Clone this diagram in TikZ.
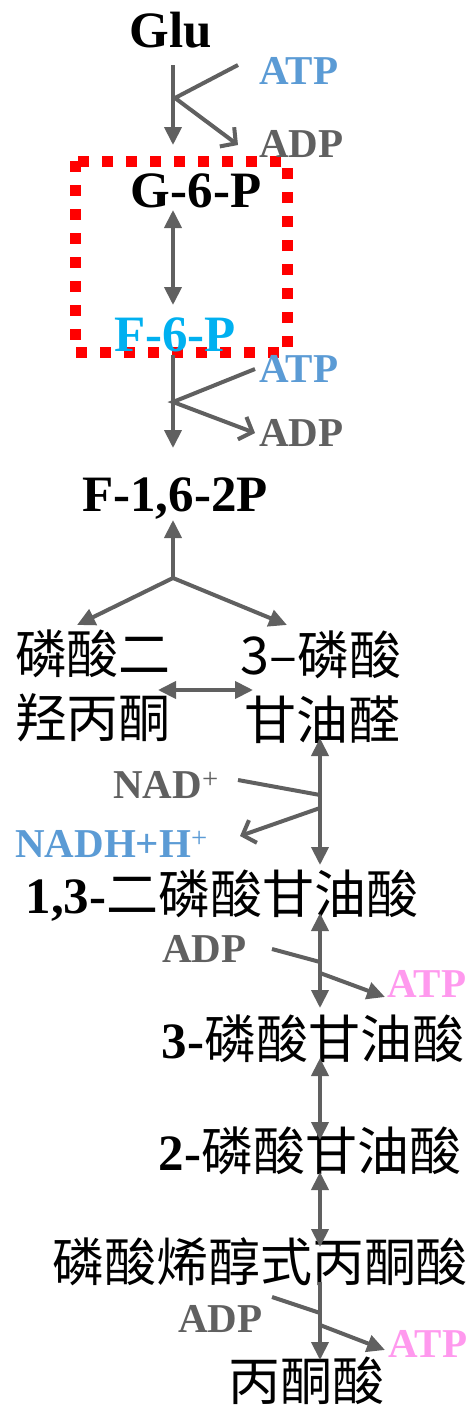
\documentclass[tikz,border=0pt]{standalone}
\usepackage{fontspec}
\setmainfont{Liberation Serif}
\newfontfamily\cjk{Noto Sans CJK SC}
\usetikzlibrary{arrows.meta}
\definecolor{arr}{HTML}{606060}
\definecolor{atpblue}{HTML}{5B9BD5}
\definecolor{cyanf}{HTML}{00B0F0}
\definecolor{pinkatp}{HTML}{FF99EE}
\definecolor{boxred}{HTML}{FF0000}
\begin{document}
\begin{tikzpicture}[x=1pt,y=1pt,
  lbl/.style={inner sep=0pt, font=\fontsize{51}{56}\selectfont\bfseries},
  small/.style={inner sep=0pt, font=\fontsize{41}{46}\selectfont\bfseries},
  zh/.style={inner sep=0pt, font=\fontsize{52}{60}\selectfont\cjk},
  conn/.style={draw=arr, line width=4pt},
  fa/.style={-{Triangle[length=18pt,width=17pt]}},
  da/.style={{Triangle[length=18pt,width=17pt]}-{Triangle[length=18pt,width=17pt]}},
  oa/.style={-{Straight Barb[length=11pt,width=24pt]}},
  ]
\useasboundingbox (0,0) rectangle (476,-1408);
% highlight box
\draw[boxred, line width=11pt, dash pattern=on 11pt off 13pt] (75,-161) rectangle (287,-352);
% labels
\node[lbl, anchor=base] (glu) at (171,-47) {Glu};
\node[small, anchor=base west, text=atpblue] (atp1) at (259,-84) {ATP};
\node[small, anchor=base west, text=arr] (adp1) at (259,-157) {ADP};
\node[lbl, anchor=base] (g6p) at (196,-207) {G-6-P};
\node[lbl, anchor=base, text=cyanf] (f6p) at (175,-351) {F-6-P};
\node[small, anchor=base west, text=atpblue] (atp2) at (259,-382) {ATP};
\node[small, anchor=base west, text=arr] (adp2) at (259,-446) {ADP};
\node[lbl, anchor=base] (f16) at (175,-511) {F-1,6-2P};
\node[zh] (dhap1) at (93,-654) {磷酸二};
\node[zh] (dhap2) at (93,-718) {羟丙酮};
\node[zh] (gap1) at (321,-655) {3–磷酸};
\node[zh] (gap2) at (322,-720) {甘油醛};
\node[small, anchor=base west, text=arr] (nad) at (113,-798) {NAD\textsuperscript{\mdseries +}};
\node[small, anchor=base west, text=atpblue] (nadh) at (15,-857) {NADH+H\textsuperscript{\mdseries +}};
\node[lbl, anchor=base] (bpg) at (222,-913) {1,3-{\fontsize{52}{60}\selectfont\cjk\mdseries 二磷酸甘油酸}};
\node[small, anchor=base west, text=arr] (adp3) at (162,-962) {ADP};
\node[small, anchor=base west, text=pinkatp] (atp3) at (387,-997) {ATP};
\node[lbl, anchor=base] (pg3) at (313,-1058) {3-{\fontsize{52}{60}\selectfont\cjk\mdseries 磷酸甘油酸}};
\node[lbl, anchor=base] (pg2) at (310,-1170) {2-{\fontsize{52}{60}\selectfont\cjk\mdseries 磷酸甘油酸}};
\node[zh] (pep) at (260,-1262) {磷酸烯醇式丙酮酸};
\node[small, anchor=base west, text=arr] (adp4) at (178,-1332) {ADP};
\node[small, anchor=base west, text=pinkatp] (atp4) at (388,-1357) {ATP};
\node[zh] (pyr) at (306,-1381) {丙酮酸};
% connector coordinates
\coordinate (a1s) at (173,-65);  \coordinate (a1e) at (173,-145);
\coordinate (t1s) at (238,-65);  \coordinate (b1) at (175,-98); \coordinate (d1e) at (238,-145);
\coordinate (a2s) at (173,-210); \coordinate (a2e) at (173,-305);
\coordinate (a3s) at (173,-355); \coordinate (a3e) at (173,-448);
\coordinate (t2s) at (255,-369); \coordinate (b2) at (173,-402); \coordinate (d2e) at (255,-433);
\coordinate (sp) at (173,-578); \coordinate (a4e) at (173,-520);
\coordinate (l1) at (77,-625); \coordinate (r1) at (287,-625);
\coordinate (hs) at (158,-690); \coordinate (he) at (253,-690);
\coordinate (v1s) at (320,-738); \coordinate (v1e) at (320,-865);
\coordinate (n1s) at (238,-780); \coordinate (n1e) at (320,-795);
\coordinate (n2s) at (320,-808); \coordinate (n2e) at (240,-836);
\coordinate (v2s) at (320,-913); \coordinate (v2e) at (320,-1008);
\coordinate (p1s) at (272,-949); \coordinate (p1e) at (320,-962);
\coordinate (q1s) at (320,-973); \coordinate (q1e) at (385,-997);
\coordinate (v3s) at (320,-1058); \coordinate (v3e) at (320,-1140);
\coordinate (v4s) at (320,-1172); \coordinate (v4e) at (320,-1247);
\coordinate (v5s) at (320,-1282); \coordinate (v5e) at (320,-1360);
\coordinate (p2s) at (272,-1297); \coordinate (p2e) at (320,-1313);
\coordinate (q2s) at (320,-1325); \coordinate (q2e) at (385,-1350);
% connectors
\draw[conn, fa] (a1s) -- (a1e);
\draw[conn, oa] (t1s) -- (b1) -- (d1e);
\draw[conn, da] (a2s) -- (a2e);
\draw[conn, fa] (a3s) -- (a3e);
\draw[conn, oa] (t2s) -- (b2) -- (d2e);
\draw[conn, fa] (sp) -- (a4e);
\draw[conn, fa] (sp) -- (l1);
\draw[conn, fa] (sp) -- (r1);
\draw[conn, da] (hs) -- (he);
\draw[conn, da] (v1s) -- (v1e);
\draw[conn] (n1s) -- (n1e);
\draw[conn, oa] (n2s) -- (n2e);
\draw[conn, da] (v2s) -- (v2e);
\draw[conn] (p1s) -- (p1e);
\draw[conn, fa] (q1s) -- (q1e);
\draw[conn, da] (v3s) -- (v3e);
\draw[conn, da] (v4s) -- (v4e);
\draw[conn, fa] (v5s) -- (v5e);
\draw[conn] (p2s) -- (p2e);
\draw[conn, fa] (q2s) -- (q2e);
\end{tikzpicture}
\end{document}
